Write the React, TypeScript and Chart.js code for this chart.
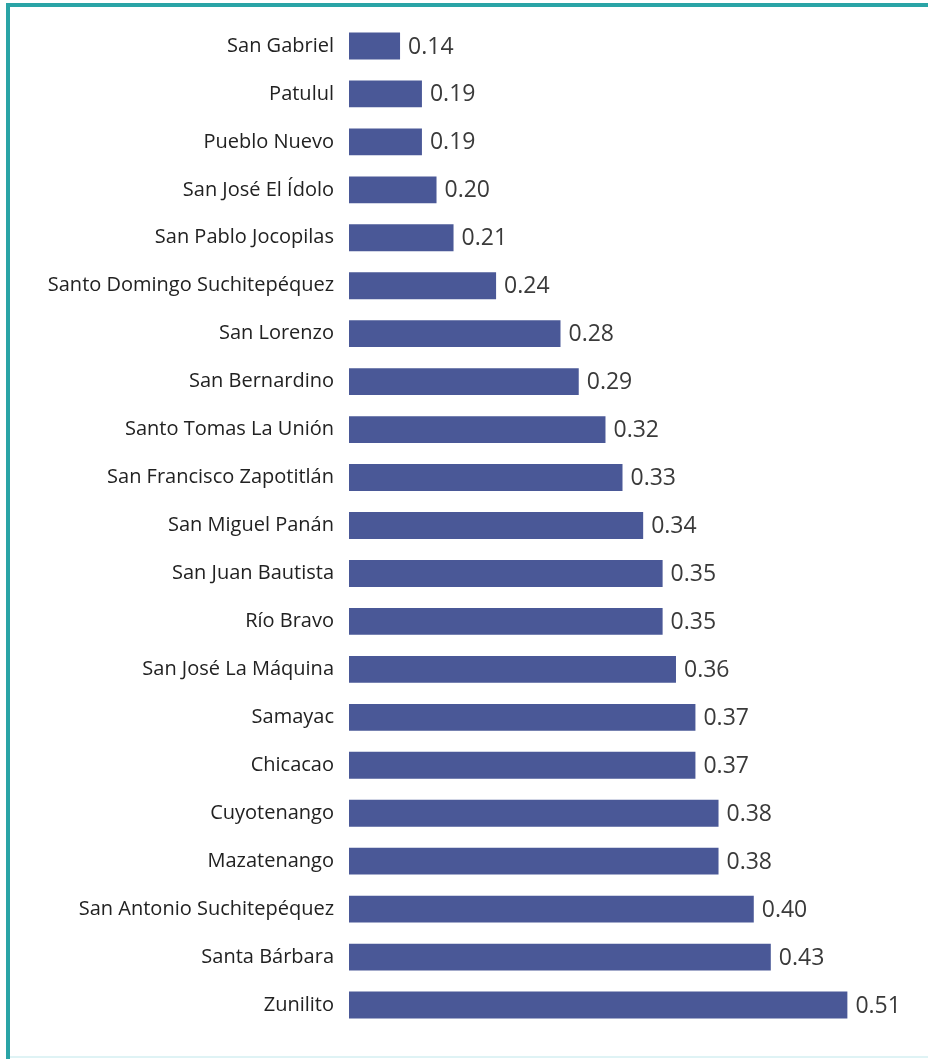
import React, { useEffect, useRef } from "react";
import { Chart, registerables } from "chart.js";

Chart.register(...registerables);

const categories: string[] = [
  "San Gabriel",
  "Patulul",
  "Pueblo Nuevo",
  "San José El Ídolo",
  "San Pablo Jocopilas",
  "Santo Domingo Suchitepéquez",
  "San Lorenzo",
  "San Bernardino",
  "Santo Tomas La Unión",
  "San Francisco Zapotitlán",
  "San Miguel Panán",
  "San Juan Bautista",
  "Río Bravo",
  "San José La Máquina",
  "Samayac",
  "Chicacao",
  "Cuyotenango",
  "Mazatenango",
  "San Antonio Suchitepéquez",
  "Santa Bárbara",
  "Zunilito",
];

// Values as printed next to each bar
const labelValues: number[] = [
  0.14, 0.19, 0.19, 0.2, 0.21, 0.24, 0.28, 0.29, 0.32, 0.33, 0.34, 0.35, 0.35,
  0.36, 0.37, 0.37, 0.38, 0.38, 0.4, 0.43, 0.51,
];

// Bar lengths as drawn in the picture (axis starting at 0.10)
const barValues: number[] = [
  0.142, 0.16, 0.16, 0.172, 0.186, 0.221, 0.274, 0.289, 0.311, 0.325, 0.342,
  0.358, 0.358, 0.369, 0.385, 0.385, 0.404, 0.404, 0.433, 0.447, 0.51,
];

const axisMin = 0.1;
const axisMax = 0.55;

const BAR_COLOR = "#4a5897";
const TEAL = "#2aa4a6";

const valueLabelPlugin = {
  id: "valueLabels",
  afterDatasetsDraw(chart: any) {
    const ctx = chart.ctx;
    const meta = chart.getDatasetMeta(0);
    ctx.save();
    ctx.font = "23px 'Open Sans'";
    ctx.fillStyle = "#3a3a3a";
    ctx.textAlign = "left";
    ctx.textBaseline = "middle";
    meta.data.forEach((bar: any, i: number) => {
      ctx.fillText(labelValues[i].toFixed(2), bar.x + 8, bar.y + 1);
    });
    ctx.restore();
  },
};

export default function App() {
  const canvasRef = useRef<HTMLCanvasElement | null>(null);

  useEffect(() => {
    document.body.style.margin = "0";
    const canvas = canvasRef.current;
    if (!canvas) return;
    const chart = new Chart(canvas, {
      type: "bar",
      data: {
        labels: categories,
        datasets: [
          {
            data: barValues,
            backgroundColor: BAR_COLOR,
            borderWidth: 0,
            barPercentage: 0.56,
            categoryPercentage: 1,
          },
        ],
      },
      options: {
        indexAxis: "y",
        animation: false,
        responsive: false,
        maintainAspectRatio: false,
        layout: { padding: { left: 0, top: 22, right: 32, bottom: 30 } },
        plugins: {
          legend: { display: false },
          tooltip: { enabled: false },
        },
        scales: {
          x: {
            display: false,
            min: axisMin,
            max: axisMax,
          },
          y: {
            grid: { display: false, drawTicks: false },
            border: { display: false },
            ticks: {
              color: "#222222",
              padding: 15,
              font: { family: "'Open Sans'", size: 20, weight: 500 },
            },
            afterFit(scale: any) {
              scale.width = 349;
              scale.paddingTop = 0;
              scale.paddingBottom = 0;
            },
          },
        },
      },
      plugins: [valueLabelPlugin],
    });
    return () => chart.destroy();
  }, []);

  return (
    <div
      style={{
        position: "relative",
        width: 928,
        height: 1059,
        background: "#ffffff",
        overflow: "hidden",
      }}
    >
      <canvas
        ref={canvasRef}
        width={928}
        height={1059}
        style={{ position: "absolute", left: 0, top: 0, width: 928, height: 1059 }}
      />
      <div
        style={{
          position: "absolute",
          left: 6,
          top: 3,
          width: 922,
          height: 4,
          background: TEAL,
        }}
      />
      <div
        style={{
          position: "absolute",
          left: 6,
          top: 3,
          width: 4,
          height: 1056,
          background: TEAL,
        }}
      />
      <div
        style={{
          position: "absolute",
          left: 10,
          top: 1056,
          width: 918,
          height: 2,
          background: "#dff3f5",
        }}
      />
    </div>
  );
}
